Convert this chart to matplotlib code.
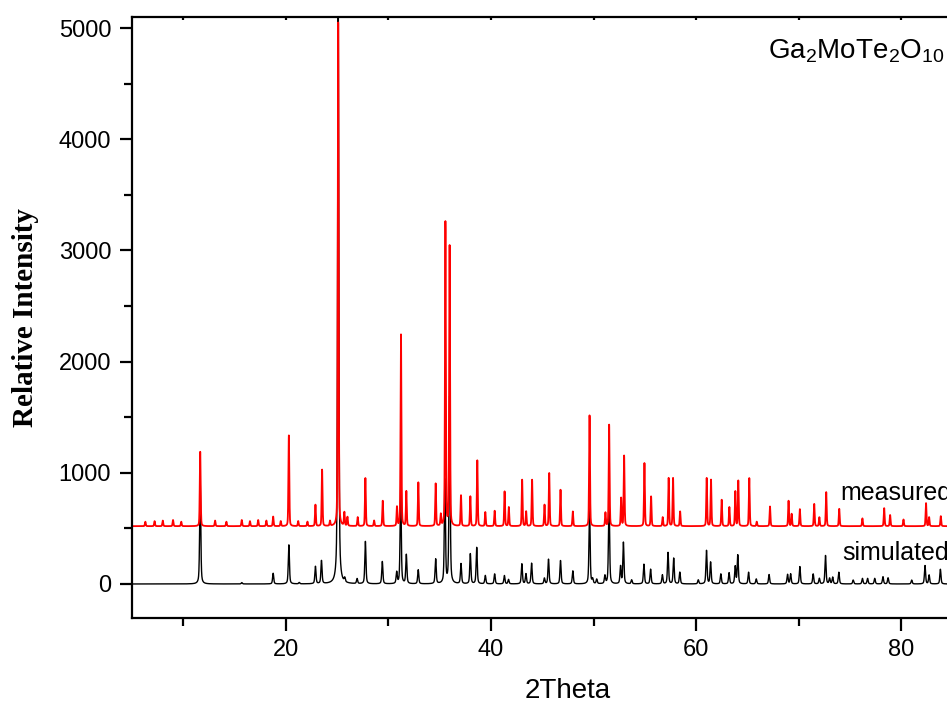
import numpy as np
import matplotlib
matplotlib.use("Agg")
import matplotlib.pyplot as plt
from matplotlib.ticker import MultipleLocator

# ---------------- data ----------------
# measured pattern: peak positions (2theta) and apex intensities
meas_pos = [6.3, 7.2, 8.0, 9.0, 9.8, 11.65, 13.1, 14.2, 15.7, 16.5, 17.3, 18.1, 18.76,
            19.5, 20.29, 21.2, 22.1, 22.88, 23.53, 24.3, 25.1, 25.7,
            26.0, 27.0, 27.75, 28.6, 29.44, 30.83, 31.22, 31.74, 32.91, 34.6, 35.1, 35.55,
            35.96, 37.07, 37.98, 38.66, 39.44, 40.35, 41.32, 41.73, 43.03, 43.42, 44.0,
            45.21, 45.67, 46.77, 47.97, 49.6, 51.15, 51.51, 52.68, 52.97, 54.95, 55.6,
            56.73, 57.31, 57.74, 58.43, 61.02, 61.44, 62.48, 63.23, 63.81, 64.1, 65.17,
            65.9, 67.19, 69.0, 69.3, 70.1, 71.5, 72.0, 72.67, 73.94, 76.2, 78.32, 78.9,
            80.2, 82.4, 82.7, 83.84]
meas_int = [560, 565, 570, 575, 560, 1189, 570, 560, 575, 565, 575, 570, 606,
            565, 1336, 565, 560, 712, 1027, 565, 5050, 640,
            600, 600, 952, 570, 748, 691, 2243, 832, 913, 901, 622, 3252,
            3036, 796, 787, 1111, 646, 658, 832, 691, 937, 652, 937,
            712, 997, 847, 652, 1516, 640, 1432, 772, 1153, 1087, 787,
            600, 952, 952, 652, 952, 937, 757, 691, 832, 928, 952,
            560, 697, 748, 630, 673, 720, 600, 826, 676, 590, 682, 620,
            580, 727, 600, 610]
meas_base = 520

# simulated pattern: peak positions and apex intensities
sim_pos = [11.65, 15.7, 18.76, 20.29, 21.3, 22.88, 23.47, 25.1, 25.74, 26.94, 27.75,
           29.4, 30.8, 31.19, 31.74, 32.9, 34.6, 35.5, 35.96, 37.07, 37.98, 38.6,
           39.44, 40.35, 41.3, 41.7, 43.0, 43.4, 43.95, 45.2, 45.6, 46.77, 47.97,
           49.6, 49.9, 50.3, 51.1, 51.5, 52.62, 52.9, 53.7, 54.9, 55.55, 56.7,
           57.25, 57.8, 58.4, 60.2, 61.0, 61.4, 62.4, 63.2, 63.8, 64.05, 65.1,
           65.85, 67.1, 68.9, 69.2, 70.1, 71.4, 72.0, 72.6, 73.0, 73.3, 73.9,
           75.3, 76.2, 76.7, 77.4, 78.2, 78.7, 81.0, 82.3, 82.7, 83.8]
sim_int = [900, 12, 96, 351, 12, 156, 207, 5400, 36, 45, 381,
           201, 102, 871, 261, 126, 222, 930, 1680, 180, 270, 327,
           75, 90, 75, 40, 180, 90, 186, 51, 222, 210, 117,
           684, 40, 40, 72, 757, 156, 372, 36, 177, 132, 81,
           282, 231, 105, 36, 300, 195, 90, 100, 156, 258, 105,
           45, 85, 85, 90, 156, 90, 50, 255, 50, 60, 105,
           35, 50, 50, 50, 65, 55, 35, 165, 80, 132]

x_ticks = [20, 40, 60, 80]
y_ticks = [0, 1000, 2000, 3000, 4000, 5000]

# ---------------- profiles ----------------
tt = np.arange(5.0, 90.0, 0.01)


def lorentz(x, x0, w):
    return 1.0 / (1.0 + ((x - x0) / (w / 2.0)) ** 2)


def gauss(x, x0, w):
    return np.exp(-4 * np.log(2) * ((x - x0) / w) ** 2)


measured = np.full_like(tt, float(meas_base))
for p, h in zip(meas_pos, meas_int):
    measured += (h - meas_base) * (0.3 * lorentz(tt, p, 0.10) + 0.7 * gauss(tt, p, 0.10))

simulated = np.zeros_like(tt)
for p, h in zip(sim_pos, sim_int):
    simulated += h * (0.5 * lorentz(tt, p, 0.13) + 0.5 * gauss(tt, p, 0.13))

# ---------------- figure ----------------
plt.rcParams['font.family'] = ['Liberation Sans', 'DejaVu Sans']
plt.rcParams['mathtext.fontset'] = 'custom'
plt.rcParams['mathtext.rm'] = 'Liberation Sans'
plt.rcParams['mathtext.it'] = 'Liberation Sans'

fig = plt.figure(figsize=(9.47, 7.11), dpi=100)
ax = fig.add_axes([132 / 947, 1 - 618 / 711, (1004 - 132) / 947, (618 - 17) / 711])

ax.plot(tt, simulated, color='black', lw=1.0)
ax.plot(tt, measured, color='#ff0000', lw=1.3)

ax.set_xlim(5, 90)
ax.set_ylim(-306, 5100)
ax.set_xticks(x_ticks)
ax.set_yticks(y_ticks)
ax.xaxis.set_minor_locator(MultipleLocator(10))
ax.yaxis.set_minor_locator(MultipleLocator(500))

for s in ax.spines.values():
    s.set_linewidth(1.6)

ax.tick_params(axis='both', which='major', direction='out', length=9, width=1.6,
               labelsize=17, pad=6)
ax.tick_params(axis='both', which='minor', direction='out', length=5.5, width=1.6)
ax.tick_params(axis='x', which='both', top=True, labeltop=False)
# top ticks tiny and inward
for t in ax.xaxis.get_major_ticks() + ax.xaxis.get_minor_ticks():
    t.tick2line.set_markersize(2)
    t.tick2line.set_marker(3)

ax.set_xlabel('2Theta', fontsize=20, labelpad=12)
ax.set_ylabel('Relative Intensity', fontsize=21, fontweight='bold',
              family=['Liberation Serif', 'DejaVu Serif'], labelpad=14)

ax.text(74.0, 820, 'measured', fontsize=18, va='center', ha='left')
ax.text(74.2, 280, 'simulated', fontsize=18, va='center', ha='left')
ax.text(67.0, 4790, r'Ga$_2$MoTe$_2$O$_{10}$', fontsize=20, va='center', ha='left')

fig.savefig('out.png', dpi=100)
